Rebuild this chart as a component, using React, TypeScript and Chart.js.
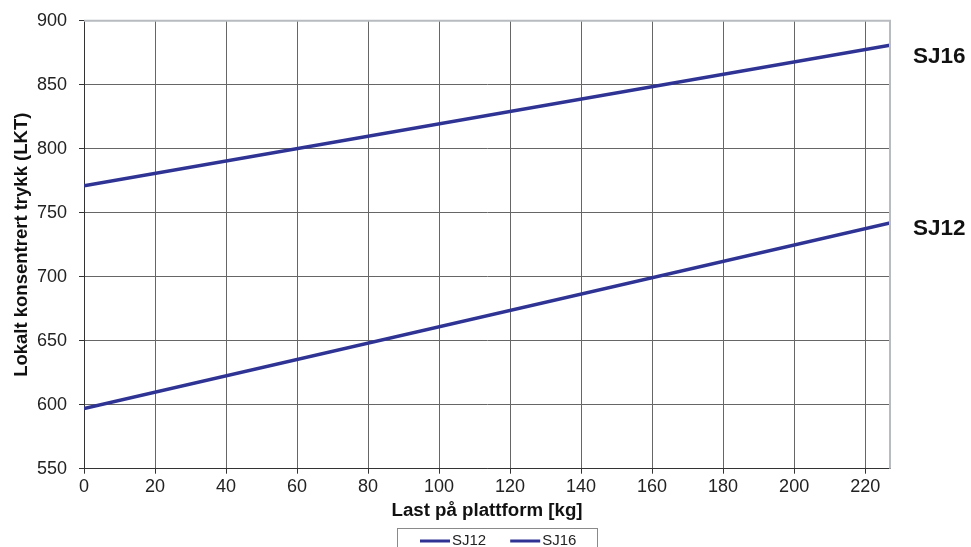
import React, { useEffect, useRef } from "react";
import { Chart, registerables } from "chart.js";

Chart.register(...registerables);

const loadKg = [0, 227];
const sj12 = [597, 742];
const sj16 = [771, 881];
const seriesNames = ["SJ12", "SJ16"];
const lineColor = "#2e3394";
const FONT = "'Liberation Sans', Arial, sans-serif";

const sideLabels = [
  { text: "SJ16", value: 872 },
  { text: "SJ12", value: 737.5 },
];

const extrasPlugin = {
  id: "extras",
  afterDraw(chart: any) {
    const ctx = chart.ctx;
    const { left, right, top, bottom } = chart.chartArea;
    ctx.save();
    // light top & right border
    ctx.strokeStyle = "#b8bcc0";
    ctx.lineWidth = 2;
    ctx.beginPath();
    ctx.moveTo(left, top);
    ctx.lineTo(right, top);
    ctx.lineTo(right, bottom);
    ctx.stroke();
    // side labels
    ctx.fillStyle = "#111";
    ctx.font = `bold 22.5px ${FONT}`;
    ctx.textBaseline = "middle";
    ctx.textAlign = "left";
    const ys = chart.scales.y;
    sideLabels.forEach((l) => {
      ctx.fillText(l.text, right + 23, ys.getPixelForValue(l.value));
    });
    // legend (frame cut at the bottom edge, as in the original)
    const boxL = 397;
    const boxR = 597;
    const boxT = 530;
    ctx.strokeStyle = "#8a8a8a";
    ctx.lineWidth = 1;
    ctx.strokeRect(boxL + 0.5, boxT + 0.5, boxR - boxL, 40);
    ctx.font = `15px ${FONT}`;
    ctx.fillStyle = "#222";
    ctx.textBaseline = "middle";
    const cy = 543;
    let x = 420;
    seriesNames.forEach((name) => {
      ctx.strokeStyle = lineColor;
      ctx.lineWidth = 3;
      ctx.beginPath();
      ctx.moveTo(x, cy);
      ctx.lineTo(x + 30, cy);
      ctx.stroke();
      ctx.fillText(name, x + 32, cy);
      x += 32 + ctx.measureText(name).width + 24;
    });
    ctx.restore();
  },
};

export default function App() {
  const ref = useRef<HTMLCanvasElement | null>(null);
  useEffect(() => {
    document.body.style.margin = "0";
    const mk = (i: number, ys: number[]) => ({
      label: seriesNames[i],
      data: loadKg.map((x, k) => ({ x, y: ys[k] })),
      borderColor: lineColor,
      backgroundColor: lineColor,
      borderWidth: 3.5,
      pointRadius: 0,
    });
    const chart = new Chart(ref.current as HTMLCanvasElement, {
      type: "line",
      data: { datasets: [mk(0, sj12), mk(1, sj16)] },
      options: {
        animation: false,
        responsive: false,
        maintainAspectRatio: false,
        layout: { padding: { left: 4, right: 81, top: 16, bottom: 24 } },
        plugins: {
          legend: { display: false },
          tooltip: { enabled: false },
        },
        scales: {
          x: {
            type: "linear",
            min: 0,
            max: 227,
            ticks: {
              stepSize: 20,
              includeBounds: false,
              font: { family: FONT, size: 18 },
              color: "#222",
              padding: 3,
            },
            grid: { color: "#666", tickLength: 5, tickColor: "#333" },
            border: { color: "#333", width: 1 },
            title: {
              display: true,
              text: "Last på plattform [kg]",
              font: { family: FONT, size: 18.7, weight: "bold", lineHeight: 1.0 },
              color: "#111",
              padding: { top: 0, bottom: 4 },
            },
          },
          y: {
            min: 550,
            max: 900,
            afterFit: (scale: any) => {
              scale.width = 80;
            },
            ticks: {
              stepSize: 50,
              font: { family: FONT, size: 18 },
              color: "#222",
              padding: 12,
            },
            grid: { color: "#666", tickLength: 5, tickColor: "#333" },
            border: { color: "#333", width: 1 },
            title: {
              display: true,
              text: "Lokalt konsentrert trykk (LKT)",
              font: { family: FONT, size: 18.5, weight: "bold" },
              color: "#111",
              padding: { top: 7, bottom: 0 },
            },
          },
        },
      },
      plugins: [extrasPlugin],
    } as any);
    return () => chart.destroy();
  }, []);
  return (
    <div style={{ width: 971, height: 547, overflow: "hidden", position: "relative", background: "#fff" }}>
      <canvas
        ref={ref}
        width={971}
        height={550}
        style={{ display: "block", position: "absolute", left: 0, top: -2 }}
      />
    </div>
  );
}
